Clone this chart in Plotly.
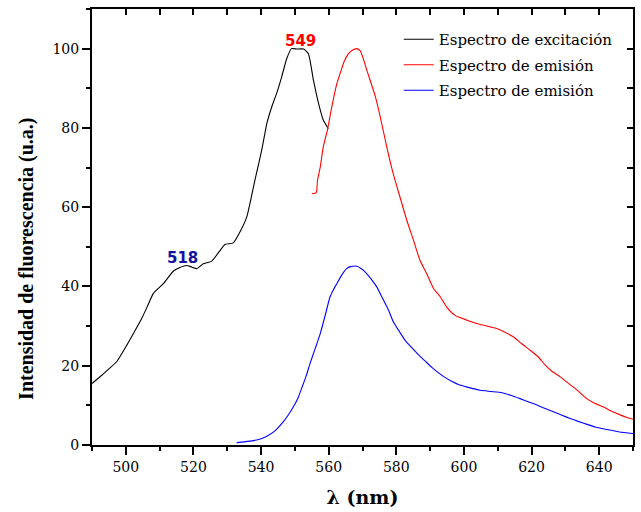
import plotly.graph_objects as go

# Excitation spectrum (black)
exc_nm = [490, 492.9, 495, 497.3, 500.3, 502.5, 504.7, 506.5, 508.1, 511.1, 514.1, 516, 518,
          519.5, 521, 522.9, 525.4, 527.9, 529.3, 531.8, 533.8, 535.8, 538.2, 540.2, 541.7,
          543.2, 544.6, 546.1, 547.6, 549, 550.6, 552.6, 554, 555.5, 557, 558.4, 559.9]
exc_int = [15.5, 17.6, 19.2, 21.0, 25.2, 28.5, 31.9, 35.2, 38.2, 40.7, 43.9, 44.8, 45.3,
           44.9, 44.5, 45.7, 46.4, 49.1, 50.6, 51.0, 53.8, 57.6, 66.9, 74.4, 81.1,
           85.4, 88.7, 92.9, 97.5, 100.0, 99.9, 99.9, 98.7, 92.0, 86.2, 82.0, 79.8]

# Emission spectrum (red)
em1_nm = [555.0, 556.3, 556.7, 557.5, 558.4, 559.6, 560.9, 562.4, 563.6, 564.6, 565.8, 567,
          568.2, 569.3, 570.3, 571.3, 573.7, 575.2, 577.2, 579.1, 581.1, 583.1, 585.1, 587,
          589, 591, 593, 594.9, 597.4, 600.9, 604.8, 607.8, 609.7, 612, 614.6, 617, 619.6,
          622, 624, 626, 628.5, 631, 633.4, 636.3, 638.5, 641.3, 644, 646.2, 648, 650]
em1_int = [63.4, 63.6, 66.8, 70.1, 75.2, 79.4, 85.2, 91.1, 94.3, 96.8, 98.7, 99.6,
           100.0, 99.5, 97.3, 94.5, 88.2, 83.0, 75.1, 68.4, 62.5, 56.7, 51.6, 46.6,
           43.2, 39.5, 37.4, 34.8, 32.7, 31.5, 30.4, 29.8, 29.4, 28.5, 27.3, 25.6, 23.9,
           22.2, 20.2, 18.6, 17.2, 15.5, 13.9, 11.7, 10.6, 9.6, 8.4, 7.6, 7.0, 6.5]

# Emission spectrum (blue)
em2_nm = [532.8, 535, 537.7, 540, 541.7, 544, 546.6, 548, 549.6, 551, 552, 553.3, 554.5, 556,
          557.5, 559, 560.4, 561.4, 562.4, 563.8, 565.3, 566.5, 568.3, 569.8, 571.3, 572.8,
          574.2, 576, 577.7, 579.1, 581, 582.6, 584.5, 586.5, 588.5, 590.5, 592.5, 594.5,
          596.5, 598.5, 601, 604.8, 608, 611.2, 614, 616.6, 619, 621.6, 624, 626.5, 629,
          631.4, 634, 636.4, 639, 642.3, 646, 650]
em2_int = [0.6, 0.8, 1.1, 1.6, 2.2, 3.5, 5.9, 7.5, 9.7, 12.0, 14.3, 17.3, 20.6, 24.3,
           28.1, 32.8, 37.4, 39.2, 40.7, 42.8, 44.5, 45.0, 45.1, 44.4, 43.2, 41.6,
           39.9, 36.9, 34.0, 31.1, 28.5, 26.4, 24.6, 22.8, 21.2, 19.6, 18.2, 17.0,
           16.0, 15.2, 14.6, 13.8, 13.5, 13.2, 12.5, 11.7, 10.9, 10.1, 9.2, 8.4, 7.5,
           6.7, 5.9, 5.2, 4.5, 3.9, 3.3, 2.9]

series_names = ["Espectro de excitación", "Espectro de emisión", "Espectro de emisión"]
series_colors = ["#000000", "#ff0000", "#0000ff"]

peak_labels = [(518, "#1212a0"), (549, "#ff0000")]

X_RANGE = [490, 650]
Y_RANGE = [0, 110]

serif = "DejaVu Serif"

fig = go.Figure()
for xs, ys, name, col, grp in zip([exc_nm, em1_nm, em2_nm], [exc_int, em1_int, em2_int],
                                   series_names, series_colors, ["a", "b", "c"]):
    fig.add_trace(go.Scatter(x=xs, y=ys, mode="lines", name=name, legendgroup=grp,
                             line=dict(color=col, width=1.1, shape="spline", smoothing=0.5),
                             hoverinfo="x+y"))

# invisible copy on the mirrored axes so the top/right frame gets drawn
fig.add_trace(go.Scatter(x=exc_nm, y=exc_int, xaxis="x2", yaxis="y2", mode="lines",
                         line=dict(width=0), opacity=0, showlegend=False, hoverinfo="skip"))

# peak labels placed from the excitation curve
for nm, col in peak_labels:
    yv = exc_int[exc_nm.index(nm)]
    fig.add_annotation(x=nm, y=yv, text=str(nm), showarrow=False, xanchor="center",
                       yanchor="bottom", yshift=(-4 if nm == 518 else -3),
                       xshift=(-4 if nm == 518 else 9),
                       font=dict(family="DejaVu Sans", size=15, color=col, weight="bold"))

# y title
fig.add_annotation(xref="paper", yref="paper", x=-0.12, y=0.427, textangle=-90,
                   text="Intensidad de fluorescencia (u.a.)", showarrow=False,
                   xanchor="center", yanchor="middle",
                   font=dict(family="Liberation Serif", size=20, color="black", weight="bold"))

axis_common = dict(showgrid=False, zeroline=False, showline=True, linecolor="black",
                   linewidth=2, tickcolor="black", tickwidth=1.5)

fig.update_layout(
    width=641, height=512,
    margin=dict(l=92, r=8, t=9, b=67),
    paper_bgcolor="white", plot_bgcolor="white",
    showlegend=True,
    legend=dict(x=0.567, y=0.968, xanchor="left", yanchor="top", bgcolor="rgba(0,0,0,0)",
                borderwidth=0, tracegroupgap=3, traceorder="grouped",
                font=dict(family=serif, size=15, color="black")),
    xaxis=dict(range=X_RANGE, tick0=500, dtick=20, ticks="outside", ticklen=8,
               minor=dict(dtick=10, tick0=490, ticks="outside", ticklen=4,
                          tickcolor="black", tickwidth=1.5),
               tickfont=dict(family=serif, size=14, color="black"),
               title=dict(text="λ (nm)", standoff=17,
                          font=dict(family=serif, size=19, color="black", weight="bold")),
               **axis_common),
    yaxis=dict(range=Y_RANGE, tick0=0, dtick=20, ticks="outside", ticklen=8,
               minor=dict(dtick=10, tick0=0, ticks="outside", ticklen=4,
                          tickcolor="black", tickwidth=1.5),
               tickfont=dict(family=serif, size=14, color="black"),
               **axis_common),
    xaxis2=dict(range=X_RANGE, overlaying="x", side="top", anchor="y2", tick0=490, dtick=10,
                ticks="inside", ticklen=6, showticklabels=False, **axis_common),
    yaxis2=dict(range=Y_RANGE, overlaying="y", side="right", anchor="x2", tick0=0, dtick=10,
                ticks="inside", ticklen=6, showticklabels=False, **axis_common),
)

fig.write_html("out.html")
